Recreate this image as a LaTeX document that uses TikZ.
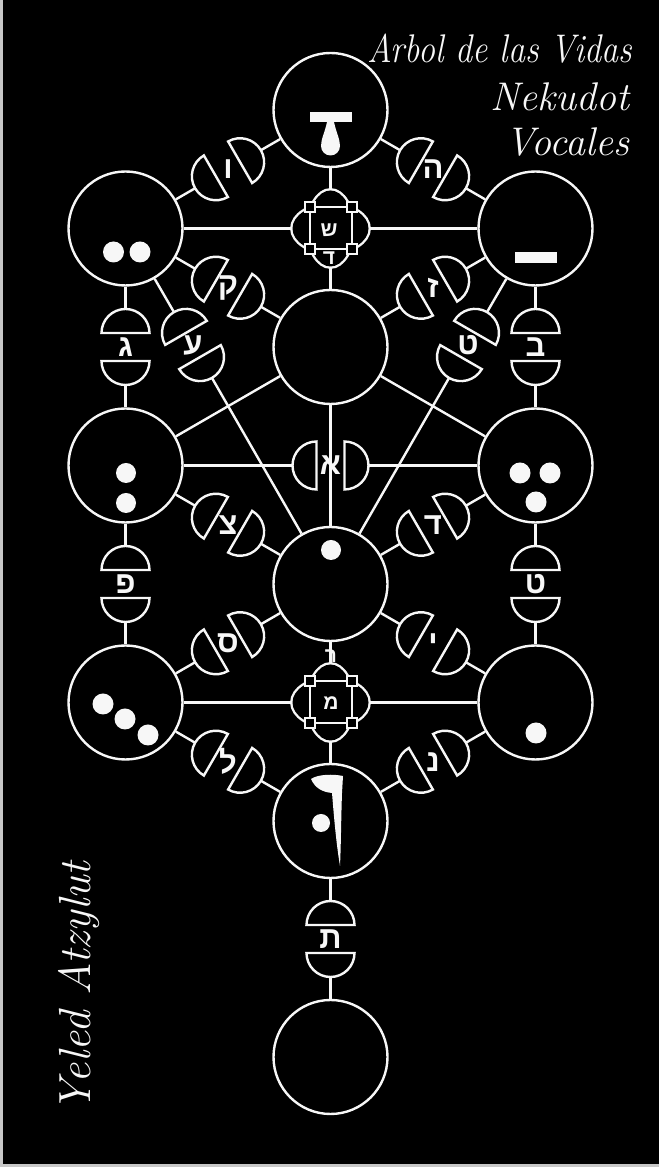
\documentclass[tikz,border=0pt]{standalone}
\usepackage{fontspec}
\usepackage{tikz}
\usetikzlibrary{positioning,calc}
\newfontfamily\hebfont[Script=Hebrew]{Liberation Sans}
\definecolor{night}{HTML}{000000}
\definecolor{chalk}{HTML}{F7F7F7}
\definecolor{rim}  {HTML}{C8C8C8}
\tikzset{
  % --- nodes
  sef/.style  = {circle, draw=chalk, fill=night, line width=2.4pt,
                 minimum size=114pt, inner sep=0pt},
  gt/.style   = {circle, minimum size=76pt, inner sep=0pt},
  half/.style = {draw=chalk, fill=night, line width=2.4pt},
  pip/.style  = {fill=chalk},
  heb/.style  = {font=\hebfont\bfseries\fontsize{31}{31}\selectfont,
                 text=chalk, inner sep=0pt},
  hebs/.style = {heb, font=\hebfont\bfseries\fontsize{21}{21}\selectfont},
  ttl/.style  = {font=\itshape\fontsize{40}{40}\selectfont, text=chalk,
                 inner sep=0pt},
  % --- edges
  ln/.style   = {draw=chalk, line width=2.4pt},
}
% gate: name, position, angle, letter
\newcommand{\gate}[4]{%
  \node[gt] (#1) at (#2) {};
  \begin{scope}[shift={(#2)}, rotate=#3]
    \draw[half] (14,-24) -- (14,24) arc[start angle=90, end angle=-90, radius=24] -- cycle;
    \draw[half] (-14,24) -- (-14,-24) arc[start angle=270, end angle=90, radius=24] -- cycle;
  \end{scope}
  \node[heb] (#1l) at (#2) {#4};
}
% cross box: name, position
\newcommand{\crossbox}[2]{%
  \node[gt] (#1) at (#2) {};
  \begin{scope}[shift={(#2)}]
    \draw[chalk, line width=4.8pt] (0,0) ellipse [x radius=38, y radius=24]
                                   (0,0) ellipse [x radius=22.5, y radius=38];
    \fill[night] (0,0) ellipse [x radius=38, y radius=24]
                 (0,0) ellipse [x radius=22.5, y radius=38];
    \draw[chalk, line width=2pt] (-21,-21) rectangle (21,21);
    \foreach \sx/\sy in {-1/-1,-1/1,1/-1,1/1}
      \draw[chalk, line width=2pt, fill=night] (\sx*21-5,\sy*21-5) rectangle +(10,10);
  \end{scope}
}

\begin{document}
\begin{tikzpicture}[x=1pt, y=1pt]
  \useasboundingbox (0,0) rectangle (659,1167);
  \fill[night] (0,0) rectangle (659,1167);
  \draw[rim, line width=3pt] (1.5,1167) -- (1.5,1.5) -- (659,1.5);

  % sefirot
  \node[sef] (keter)   at (330.5,1057)  {};
  \node[sef] (binah)   at (125.5,938.5) {};
  \node[sef] (chokmah) at (535.5,938.5) {};
  \node[sef] (daat)    at (330.5,820)   {};
  \node[sef] (gevurah) at (125.5,701.5) {};
  \node[sef] (chesed)  at (535.5,701.5) {};
  \node[sef] (tiferet) at (330.5,583)   {};
  \node[sef] (hod)     at (125.5,464.5) {};
  \node[sef] (netzach) at (535.5,464.5) {};
  \node[sef] (yesod)   at (330.5,346)   {};
  \node[sef] (malchut) at (330.5,110)   {};

  % vowel points
  \fill[pip] (310,1045) rectangle (352,1055);
  \fill[pip] (327,1045) -- (334,1045) .. controls (336,1035) and (340,1028) .. (340,1021)
             arc[start angle=0, end angle=-180, radius=9.5]
             .. controls (321,1028) and (325,1035) .. cycle;
  \fill[pip] (113.5,915) circle (10.5) (140,915) circle (10.5);
  \fill[pip] (515,904) rectangle (557,915);
  \fill[pip] (126,694) circle (10) (126,664) circle (10);
  \fill[pip] (520,694) circle (10.5) (550,694) circle (10.5) (536,665) circle (10.5);
  \fill[pip] (331,617) circle (10);
  \fill[pip] (103,463) circle (10.5) (125,448) circle (10.5) (148,432) circle (10.5);
  \fill[pip] (536,434) circle (10.5);
  \fill[pip] (311,388) .. controls (318,393) and (334,393) .. (343,391) -- (342,374)
             .. controls (341,345) and (341,322) .. (340,301)
             .. controls (336,325) and (334,350) .. (332,374)
             .. controls (322,375) and (315,379) .. cycle;
  \fill[pip] (321,344) circle (9);

  % gates
  \gate{gKB}{228,997.75}{30}{ו}
  \gate{gKC}{433,997.75}{-30}{ה}
  \gate{gBD}{228,879.25}{-30}{ק}
  \gate{gCD}{433,879.25}{30}{ז}
  \gate{gBG}{125.5,820}{90}{ג}
  \gate{gCC}{535.5,820}{90}{ב}
  \gate{gBT}{193,822}{-60}{ע}
  \gate{gCT}{468,822}{60}{ט}
  \gate{gAl}{330.5,701.5}{0}{א}
  \gate{gGT}{228,642.25}{-30}{צ}
  \gate{gChT}{433,642.25}{30}{ד}
  \gate{gGH}{125.5,583}{90}{פ}
  \gate{gCN}{535.5,583}{90}{ט}
  \gate{gTH}{228,523.75}{30}{ס}
  \gate{gTN}{433,523.75}{-30}{י}
  \gate{gHY}{228,405.25}{-30}{ל}
  \gate{gNY}{433,405.25}{30}{נ}
  \gate{gYM}{330.5,228}{90}{ת}

  % crossings
  \crossbox{shin}{330.5,938.5}
  \node[hebs] (shinl) at (329,937) {ש};
  \node[hebs] (shind) at (329,909) {ד};
  \crossbox{mem}{330.5,464.5}
  \node[hebs] (meml) at (331,464) {מ};
  \node[hebs] (memr) at (331,511) {ר};

  % paths
  \foreach \i/\j in {keter/gKB,gKB/binah,keter/gKC,gKC/chokmah,binah/gBD,gBD/daat,
                     chokmah/gCD,gCD/daat,binah/gBG,gBG/gevurah,chokmah/gCC,gCC/chesed,
                     binah/gBT,gBT/tiferet,chokmah/gCT,gCT/tiferet,gevurah/gAl,gAl/chesed,
                     gevurah/gGT,gGT/tiferet,chesed/gChT,gChT/tiferet,gevurah/gGH,gGH/hod,
                     chesed/gCN,gCN/netzach,tiferet/gTH,gTH/hod,tiferet/gTN,gTN/netzach,
                     hod/gHY,gHY/yesod,netzach/gNY,gNY/yesod,yesod/gYM,gYM/malchut,
                     keter/shin,shin/daat,binah/shin,shin/chokmah,daat/gevurah,daat/chesed,
                     daat/tiferet,tiferet/mem,mem/yesod,hod/mem,mem/netzach}
    \draw[ln] (\i) -- (\j);

  % titles
  \node[ttl, anchor=base east] (t1) at (632,1104) {\scalebox{0.85}[1]{Arbol de las Vidas}};
  \node[ttl, anchor=base east] (t2) at (630,1056) {Nekudot};
  \node[ttl, anchor=base east] (t3) at (630,1011) {Vocales};
  \node[ttl, rotate=90, anchor=base, font=\itshape\fontsize{45}{45}\selectfont]
    (t4) at (90,180) {Yeled Atzylut};
\end{tikzpicture}
\end{document}
